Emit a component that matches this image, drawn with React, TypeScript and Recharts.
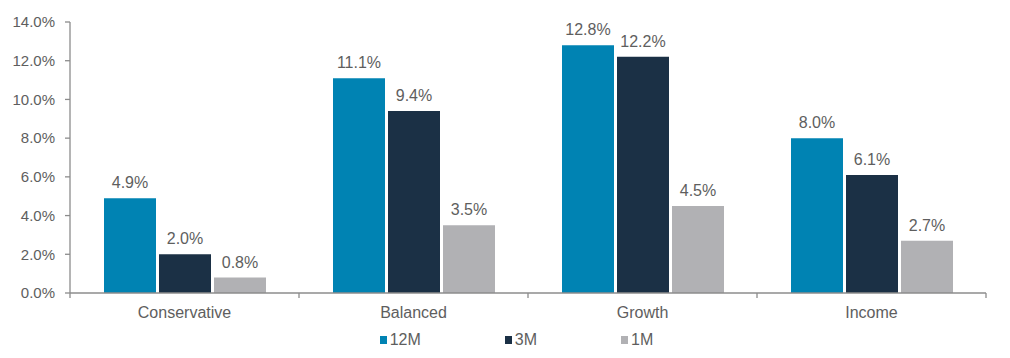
import React from 'react';
import { BarChart, Bar, XAxis, YAxis, Legend, LabelList } from 'recharts';

const categories = ['Conservative', 'Balanced', 'Growth', 'Income'];
const twelveMonth = [4.9, 11.1, 12.8, 8.0];
const threeMonth = [2.0, 9.4, 12.2, 6.1];
const oneMonth = [0.8, 3.5, 4.5, 2.7];
const yTicks = [0, 2, 4, 6, 8, 10, 12, 14];

const seriesNames = ['12M', '3M', '1M'];
const seriesColors = ['#0083B3', '#1B3045', '#B1B1B4'];

const WIDTH = 1010;
const HEIGHT = 358;
const LEFT = 70;
const RIGHT = 24;
const BAND = (WIDTH - LEFT - RIGHT) / categories.length;

const AXIS_COLOR = '#8C8C8C';
const TEXT_COLOR = '#5E5E5E';
const FONT = 'Arial, "Liberation Sans", sans-serif';

const data = categories.map((name, i) => ({
  name,
  m12: twelveMonth[i],
  m3: threeMonth[i],
  m1: oneMonth[i],
}));

const pct = (v: any) => `${Number(v).toFixed(1)}%`;

// category labels plus tick marks on the band edges
const CategoryTick = (props: any) => {
  const { x, y, payload, index } = props;
  const left = x - BAND / 2;
  const right = x + BAND / 2;
  return (
    <g>
      <line x1={left} x2={left} y1={y} y2={y + 5} stroke={AXIS_COLOR} strokeWidth={1.3} />
      {index === categories.length - 1 && (
        <line x1={right} x2={right} y1={y} y2={y + 5} stroke={AXIS_COLOR} strokeWidth={1.3} />
      )}
      <text x={x} y={y + 25} textAnchor="middle" fill={TEXT_COLOR} fontSize={16} fontFamily={FONT}>
        {payload.value}
      </text>
    </g>
  );
};

const LegendContent = () => (
  <div
    style={{
      display: 'flex',
      justifyContent: 'center',
      gap: 84,
      paddingLeft: 47,
      height: 20,
      alignItems: 'center',
      fontFamily: FONT,
      fontSize: 16,
      color: TEXT_COLOR,
    }}
  >
    {seriesNames.map((s, i) => (
      <div key={s} style={{ display: 'flex', alignItems: 'center', gap: 3 }}>
        <span style={{ width: 7, height: 8, background: seriesColors[i], display: 'inline-block' }} />
        <span>{s}</span>
      </div>
    ))}
  </div>
);

export default function App() {
  const keys = ['m12', 'm3', 'm1'];
  return (
    <div style={{ position: 'absolute', left: 0, top: 0, width: WIDTH, height: HEIGHT, background: '#fff' }}>
      <BarChart
        width={WIDTH}
        height={HEIGHT}
        data={data}
        margin={{ top: 22, right: RIGHT, bottom: 8, left: 0 }}
        barCategoryGap={34}
        barGap={3}
      >
        <XAxis
          dataKey="name"
          height={37}
          axisLine={{ stroke: AXIS_COLOR, strokeWidth: 1.3 }}
          tickLine={false}
          tickSize={0}
          tickMargin={0}
          tick={<CategoryTick />}
          interval={0}
        />
        <YAxis
          width={LEFT}
          domain={[0, 14]}
          ticks={yTicks}
          tickFormatter={pct}
          axisLine={{ stroke: AXIS_COLOR, strokeWidth: 1.3 }}
          tickLine={{ stroke: AXIS_COLOR, strokeWidth: 1.3 }}
          tickSize={5}
          tickMargin={10}
          tick={{ fill: TEXT_COLOR, fontSize: 15, fontFamily: FONT }}
        />
        <Legend verticalAlign="bottom" height={20} content={<LegendContent />} />
        {keys.map((k, i) => (
          <Bar key={k} dataKey={k} name={seriesNames[i]} fill={seriesColors[i]} isAnimationActive={false}>
            <LabelList
              dataKey={k}
              position="top"
              offset={10}
              formatter={pct}
              fill={TEXT_COLOR}
              fontSize={16}
              fontFamily={FONT}
            />
          </Bar>
        ))}
      </BarChart>
    </div>
  );
}
